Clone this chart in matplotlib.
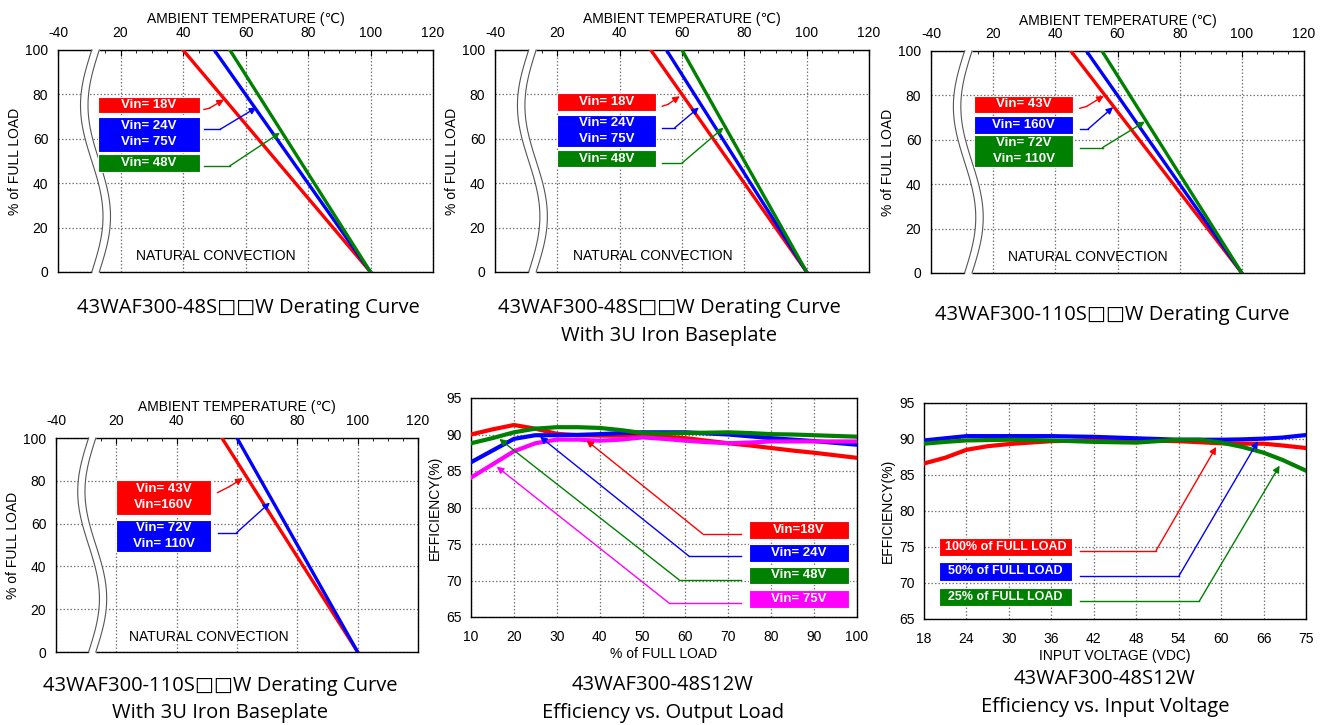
import matplotlib.pyplot as plt
import matplotlib.patches as patches
import numpy as np

# ---- derating curves (load falls linearly from 100% to 0%) ----
load_pts = [100, 0]

d1_t18 = [40, 100]
d1_t24_75 = [50, 100]
d1_t48 = [55, 100]

d2_t18 = [50, 100]
d2_t24_75 = [55, 100]
d2_t48 = [60, 100]

d3_t43 = [45, 100]
d3_t160 = [50, 100]
d3_t72_110 = [55, 100]

d4_t43_160 = [55, 100]
d4_t72_110 = [60, 100]

temp_ticks = [0, 20, 40, 60, 80, 100, 120]
temp_labels = ['-40', '20', '40', '60', '80', '100', '120']
load_ticks = [0, 20, 40, 60, 80, 100]

# ---- efficiency vs output load ----
load_pct = [10, 15, 20, 25, 30, 35, 40, 45, 50, 55, 60, 65, 70, 75, 80, 85, 90, 95, 100]
eff_18v = [90.0, 90.7, 91.3, 90.8, 90.1, 89.9, 89.85, 89.85, 89.9, 89.7, 89.5, 89.15,
           88.8, 88.5, 88.15, 87.8, 87.5, 87.15, 86.8]
eff_24v = [86.2, 87.8, 89.4, 89.9, 89.9, 89.95, 90.05, 90.2, 90.3, 90.3, 90.3, 90.15,
           90.0, 89.75, 89.5, 89.3, 89.1, 88.85, 88.6]
eff_48v = [88.8, 89.5, 90.3, 90.8, 91.0, 91.0, 90.9, 90.6, 90.2, 90.15, 90.2, 90.25,
           90.3, 90.2, 90.05, 90.0, 89.9, 89.8, 89.7]
eff_75v = [84.1, 85.9, 87.7, 88.8, 89.3, 89.3, 89.15, 89.3, 89.6, 89.4, 89.15, 88.95,
           88.8, 88.9, 89.05, 89.05, 89.05, 89.05, 89.05]
load_ticks_eff = [10, 20, 30, 40, 50, 60, 70, 80, 90, 100]

# ---- efficiency vs input voltage ----
vin = [18, 21, 24, 27, 30, 33, 36, 39, 42, 45, 48, 51, 54, 57, 60, 63, 66, 70, 75]
eff_full = [86.6, 87.4, 88.5, 89.0, 89.3, 89.5, 89.7, 89.75, 89.8, 89.8, 89.8, 89.75,
            89.7, 89.55, 89.4, 89.35, 89.35, 89.1, 88.75]
eff_half = [89.8, 90.1, 90.4, 90.4, 90.4, 90.4, 90.4, 90.35, 90.3, 90.2, 90.1, 90.0,
            89.9, 89.9, 89.9, 89.95, 90.05, 90.2, 90.55]
eff_quarter = [89.35, 89.6, 89.8, 89.85, 89.9, 89.85, 89.8, 89.7, 89.6, 89.55, 89.5, 89.7,
               89.9, 89.9, 89.5, 88.9, 88.1, 87.1, 85.6]
vin_ticks = [18, 24, 30, 36, 42, 48, 54, 60, 66, 75]
eff_ticks = [65, 70, 75, 80, 85, 90, 95]

RED = '#ff0000'
BLUE = '#0000ff'
GREEN = '#008000'
MAGENTA = '#ff00ff'

plt.rcParams['font.family'] = ['Liberation Sans', 'DejaVu Sans']
CAP_FONT = ['Open Sans', 'DejaVu Sans']

W, H = 1329, 725
fig = plt.figure(figsize=(W / 100, H / 100), dpi=100)


def add_ax(l, t, r, b):
    return fig.add_axes([l / W, 1 - b / H, (r - l) / W, (b - t) / H])


def label_box(ax, x0, y0, x1, y1, col, txt, size=9.5):
    ax.add_patch(patches.Rectangle((x0, y0), x1 - x0, y1 - y0, facecolor=col,
                                   edgecolor='white', lw=0.8, zorder=5))
    ax.text((x0 + x1) / 2, (y0 + y1) / 2, txt, color='white', fontsize=size,
            fontweight='bold', ha='center', va='center', zorder=6, linespacing=1.45)


def leader(ax, pts, col):
    xs = [p[0] for p in pts[:-1]]
    ys = [p[1] for p in pts[:-1]]
    ax.plot(xs, ys, color=col, lw=1.0, zorder=5)
    ax.annotate('', xy=pts[-1], xytext=pts[-2],
                arrowprops=dict(arrowstyle='-|>', color=col, lw=1.0,
                                mutation_scale=10, shrinkA=0, shrinkB=0), zorder=5)


def draw_break(ax):
    yy = np.linspace(-0.8, 100.8, 80)
    xb = 10.8 - 3.6 * np.sin(2 * np.pi * (100 - yy) / 100)
    ax.fill_betweenx(yy, xb, xb + 2.4, color='white', zorder=3, clip_on=False, lw=0)
    yl = np.linspace(0, 100, 80)
    xl = 10.8 - 3.6 * np.sin(2 * np.pi * (100 - yl) / 100)
    ax.plot(xl, yl, color='#555555', lw=0.8, zorder=3.5, clip_on=False)
    ax.plot(xl + 2.4, yl, color='#555555', lw=0.8, zorder=3.5, clip_on=False)


def derating_panel(ax, curves, boxes, leaders):
    ax.set_xlim(0, 120)
    ax.set_ylim(0, 100)
    ax.set_axisbelow(True)
    ax.set_xticks(temp_ticks, temp_labels)
    ax.set_xticks(np.arange(15, 120, 5), minor=True)
    ax.set_yticks(load_ticks)
    ax.grid(True, which='major', color='#777777', ls=(0, (1.2, 1.6)), lw=0.9)
    ax.xaxis.tick_top()
    ax.xaxis.set_label_position('top')
    ax.tick_params(axis='x', which='both', direction='in', top=True, bottom=False,
                   labelsize=10, pad=7)
    ax.tick_params(axis='x', which='major', length=4)
    ax.tick_params(axis='x', which='minor', length=2.5)
    ax.tick_params(axis='y', length=0, pad=7, labelsize=10)
    ax.set_xlabel('AMBIENT TEMPERATURE (℃)', fontsize=10, labelpad=2)
    ax.set_ylabel('% of FULL LOAD', fontsize=10, labelpad=2)
    for s in ax.spines.values():
        s.set_linewidth(1.0)
    for temps, col in curves:
        ax.plot(temps, load_pts, color=col, lw=2.4, zorder=4)
    draw_break(ax)
    for b in boxes:
        label_box(ax, *b)
    for pts, col in leaders:
        leader(ax, pts, col)
    ax.text(50.5, 7, 'NATURAL CONVECTION', fontsize=10, ha='center', va='center')


def eff_panel(ax, xlabel):
    ax.set_ylim(65, 95)
    ax.set_yticks(eff_ticks)
    ax.set_axisbelow(True)
    ax.grid(True, color='#777777', ls=(0, (1.2, 1.6)), lw=0.9)
    ax.tick_params(length=0, labelsize=10)
    ax.tick_params(axis='x', pad=9.5)
    ax.tick_params(axis='y', pad=6.5)
    ax.set_xlabel(xlabel, fontsize=10, labelpad=2)
    ax.set_ylabel('EFFICIENCY(%)', fontsize=10, labelpad=3)
    for s in ax.spines.values():
        s.set_linewidth(1.0)


# panel 1
ax1 = add_ax(58, 50, 433, 272)
derating_panel(ax1,
               [(d1_t18, RED), (d1_t24_75, BLUE), (d1_t48, GREEN)],
               [(12.9, 71.4, 45.4, 79.0, RED, 'Vin= 18V'),
                (12.9, 54.1, 45.4, 69.9, BLUE, 'Vin= 24V\nVin= 75V'),
                (12.9, 45.1, 45.4, 53.1, GREEN, 'Vin= 48V')],
               [([(46.7, 73.2), (48.5, 73.8), (53.1, 77.7)], RED),
                ([(46.7, 64.2), (51.8, 64.2), (63.5, 74.1)], BLUE),
                ([(46.7, 47.8), (55.0, 47.8), (71.0, 62.7)], GREEN)])

# panel 2
ax2 = add_ax(495, 50, 869, 272)
derating_panel(ax2,
               [(d2_t18, RED), (d2_t24_75, BLUE), (d2_t48, GREEN)],
               [(20.0, 72.6, 51.6, 80.7, RED, 'Vin= 18V'),
                (20.0, 56.4, 51.6, 70.7, BLUE, 'Vin= 24V\nVin= 75V'),
                (20.0, 47.1, 51.6, 54.9, GREEN, 'Vin= 48V')],
               [([(53.7, 74.7), (55.5, 75.5), (59.3, 79.2)], RED),
                ([(53.7, 65.0), (57.7, 65.0), (65.4, 74.1)], BLUE),
                ([(53.7, 49.2), (60.1, 49.2), (73.3, 65.0)], GREEN)])

# panel 3
ax3 = add_ax(931, 51, 1304, 273)
derating_panel(ax3,
               [(d3_t43, RED), (d3_t160, BLUE), (d3_t72_110, GREEN)],
               [(13.9, 72.0, 45.7, 79.9, RED, 'Vin= 43V'),
                (13.9, 62.7, 45.7, 70.5, BLUE, 'Vin= 160V'),
                (13.9, 47.7, 45.7, 62.2, GREEN, 'Vin= 72V\nVin= 110V')],
               [([(47.9, 74.2), (50.0, 75.0), (55.6, 79.8)], RED),
                ([(47.9, 64.8), (50.5, 64.8), (58.6, 74.7)], BLUE),
                ([(47.9, 56.5), (55.2, 56.5), (68.8, 68.2)], GREEN)])

# panel 4
ax4 = add_ax(56, 438, 418, 652)
derating_panel(ax4,
               [(d4_t43_160, RED), (d4_t72_110, BLUE)],
               [(20.0, 64.2, 51.4, 80.5, RED, 'Vin= 43V\nVin=160V'),
                (20.0, 46.7, 51.4, 61.8, BLUE, 'Vin= 72V\nVin= 110V')],
               [([(53.6, 74.5), (57.5, 77.3), (61.9, 81.2)], RED),
                ([(53.6, 55.8), (59.9, 55.8), (70.9, 69.8)], BLUE)])

# panel 5: efficiency vs output load
ax5 = add_ax(471, 398, 857, 617)
eff_panel(ax5, '% of FULL LOAD')
ax5.set_xlim(10, 100)
ax5.set_xticks(load_ticks_eff)
for ys, col in [(eff_18v, RED), (eff_24v, BLUE), (eff_48v, GREEN), (eff_75v, MAGENTA)]:
    ax5.plot(load_pct, ys, color=col, lw=3.0, zorder=4)
for y0, y1, col, txt in [(75.7, 78.2, RED, 'Vin=18V'), (72.6, 75.0, BLUE, 'Vin= 24V'),
                         (69.5, 71.9, GREEN, 'Vin= 48V'), (66.3, 68.7, MAGENTA, 'Vin= 75V')]:
    label_box(ax5, 74.8, y0, 98.1, y1, col, txt)
leader(ax5, [(73, 76.4), (64.0, 76.4), (36.9, 89.2)], RED)
leader(ax5, [(73, 73.3), (60.9, 73.3), (26.1, 89.7)], BLUE)
leader(ax5, [(73, 70.1), (58.5, 70.1), (16.6, 89.4)], GREEN)
leader(ax5, [(73, 66.9), (56.2, 66.9), (16.0, 85.6)], MAGENTA)

# panel 6: efficiency vs input voltage (last tick step is 9 V, drawn same width)
ax6 = add_ax(924, 403, 1306, 619)
tick_pos = np.arange(len(vin_ticks))
ax6.set_xscale('function', functions=(lambda v: np.interp(v, vin_ticks, tick_pos),
                                      lambda p: np.interp(p, tick_pos, vin_ticks)))
eff_panel(ax6, 'INPUT VOLTAGE (VDC)')
ax6.set_xlim(18, 75)
ax6.set_xticks(vin_ticks, [str(v) for v in vin_ticks])
ax6.minorticks_off()
for ys, col in [(eff_full, RED), (eff_half, BLUE), (eff_quarter, GREEN)]:
    ax6.plot(vin, ys, color=col, lw=3.0, zorder=4)
for y0, y1, col, txt in [(73.8, 76.3, RED, '100% of FULL LOAD'),
                         (70.3, 72.9, BLUE, '50% of FULL LOAD'),
                         (66.8, 69.3, GREEN, '25% of FULL LOAD')]:
    label_box(ax6, 20.1, y0, 38.9, y1, col, txt, size=9)
leader(ax6, [(40.0, 74.5), (50.8, 74.5), (59.3, 88.9)], RED)
leader(ax6, [(40.0, 71.0), (54.05, 71.0), (65.2, 89.7)], BLUE)
leader(ax6, [(40.0, 67.45), (56.9, 67.45), (69.4, 86.3)], GREEN)

# captions
captions = [
    (248, 308, '43WAF300-48S□□W Derating Curve'),
    (669, 308, '43WAF300-48S□□W Derating Curve'),
    (669, 336, 'With 3U Iron Baseplate'),
    (1112, 315, '43WAF300-110S□□W Derating Curve'),
    (220, 686, '43WAF300-110S□□W Derating Curve'),
    (220, 713, 'With 3U Iron Baseplate'),
    (663, 685, '43WAF300-48S12W'),
    (663, 713, 'Efficiency vs. Output Load'),
    (1105, 679, '43WAF300-48S12W'),
    (1105, 707, 'Efficiency vs. Input Voltage'),
]
for cx, cy, txt in captions:
    fig.text(cx / W, 1 - cy / H, txt, ha='center', va='center', fontsize=14.5,
             family=CAP_FONT)

fig.savefig('out.png', dpi=100)
